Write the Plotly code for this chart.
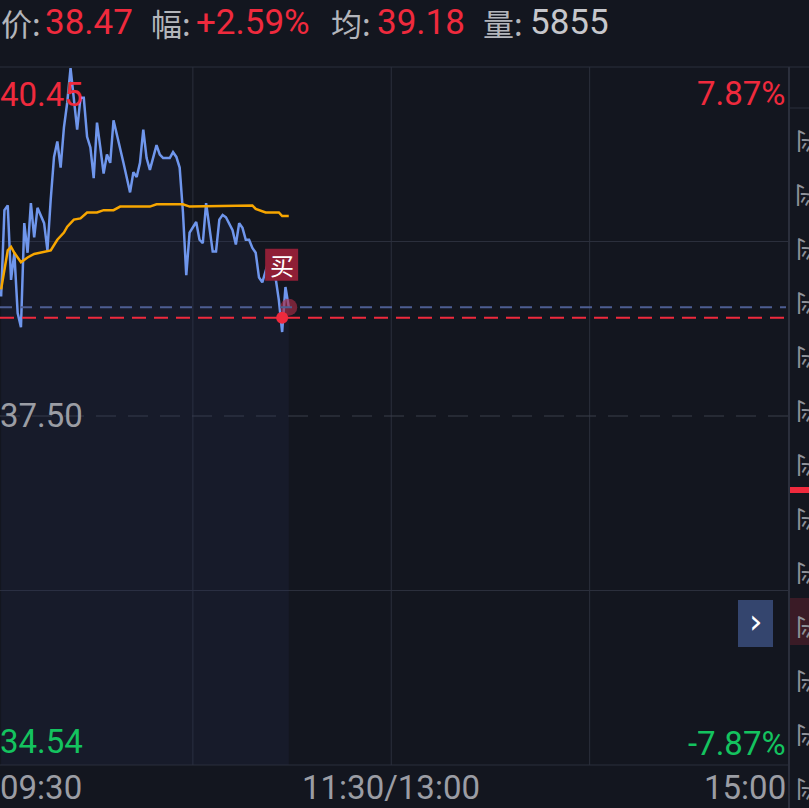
import plotly.graph_objects as go

# ---------------- data ----------------
prev_close = 37.50
price_top = 40.45
price_bottom = 34.55
pct_limit = "7.87%"

minutes = [2, 3, 4, 5, 6, 7, 8, 9, 10, 11, 12, 13, 15, 16, 17, 18, 19, 20, 21, 22,
           23, 24, 25, 26, 27, 28, 29, 30, 31, 32, 33, 34, 35, 36, 38, 39, 41, 42, 43, 44,
           45, 46, 47, 49, 50, 51, 53, 54, 55, 56, 57, 58, 59, 61, 62, 63, 64, 65, 66, 67,
           68, 69, 70, 72, 73, 74, 75, 76, 77, 78, 79, 80, 81, 83, 85, 86, 87, 88, 89]
prices = [38.51, 39.24, 39.28, 38.65, 38.88, 38.37, 38.25, 39.13, 38.88, 39.30,
          39.01, 39.26, 39.13, 38.90, 39.33, 39.69, 39.82, 39.60, 39.94, 40.15,
          40.44, 40.20, 39.92, 40.19, 40.19, 39.86, 39.77, 39.51, 39.98, 39.77,
          39.55, 39.71, 39.64, 40.00, 39.77, 39.64, 39.39, 39.56, 39.52, 39.64,
          39.92, 39.68, 39.58, 39.79, 39.71, 39.68, 39.68, 39.73, 39.69, 39.60,
          39.22, 38.69, 39.05, 39.14, 38.99, 38.96, 39.30, 39.07, 38.89, 38.89,
          39.16, 39.20, 39.18, 39.07, 38.95, 39.13, 39.09, 38.99, 38.99, 38.92,
          38.88, 38.67, 38.63, 38.82, 38.67, 38.48, 38.21, 38.59, 38.42]

avg_minutes = [2, 4, 5, 6, 8, 10, 12, 14, 15, 17, 19, 21, 22, 24, 26, 28, 31, 33, 36, 38,
               47, 49, 57, 59, 78, 79, 82, 86, 87, 89]
avg_values = [38.57, 38.90, 38.93, 38.88, 38.80, 38.84, 38.87, 38.88, 38.89, 38.90,
              38.99, 39.05, 39.10, 39.16, 39.17, 39.22, 39.22, 39.24, 39.24, 39.27,
              39.27, 39.29, 39.29, 39.27, 39.28, 39.25, 39.22, 39.22, 39.19, 39.19]

buy_minute = 87
buy_price = 38.33
last_minute = 89
last_price = 38.42

grid_minutes = [60, 120, 180]
time_ticks = ["09:30", "11:30/13:00", "15:00"]
price_labels = ["40.45", "37.50", "34.54"]
header_labels = ["价:", "幅:", "均:", "量:"]
header_values = ["38.47", "+2.59%", "39.18", "5855"]
strip_char = "买"
buy_char = "买"

# ---------------- style ----------------
BG = "#13161f"
GRID = "#2b2f3c"
RED = "#ef2a3d"
GREEN = "#14c35f"
GREY = "#9b9da4"
LABEL = "#b3b5bb"
NUMF = "Roboto, Noto Sans CJK SC, sans-serif"
CJKF = "Noto Sans CJK SC, sans-serif"

W, H = 809, 808
ML, MR, MT, MB = 0, 21, 67, 43
PW = W - ML - MR
PH = H - MT - MB


def px(x):
    return (x - ML) / PW


def py(y):
    return (H - MB - y) / PH


fig = go.Figure()

fig.add_trace(go.Scatter(
    x=minutes, y=prices, mode="lines",
    line=dict(color="#6f96ec", width=2.5),
    fill="tozeroy", fillcolor="rgba(40,50,92,0.20)",
    hoverinfo="skip", showlegend=False))

fig.add_trace(go.Scatter(
    x=avg_minutes, y=avg_values, mode="lines",
    line=dict(color="#f7a600", width=2.5),
    hoverinfo="skip", showlegend=False))

fig.add_trace(go.Scatter(
    x=[last_minute], y=[last_price], mode="markers",
    marker=dict(size=17, color="rgba(170,45,70,0.65)"),
    hoverinfo="skip", showlegend=False))

fig.add_trace(go.Scatter(
    x=[buy_minute], y=[buy_price], mode="markers",
    marker=dict(size=12, color=RED),
    hoverinfo="skip", showlegend=False))

shapes = []
# vertical grid
for m in grid_minutes:
    shapes.append(dict(type="line", xref="x", yref="paper", x0=m, x1=m, y0=0, y1=1,
                       line=dict(color=GRID, width=1), layer="below"))
# horizontal grid
for f in [0.25, 0.75]:
    shapes.append(dict(type="line", xref="paper", yref="paper", x0=0, x1=1, y0=f, y1=f,
                       line=dict(color=GRID, width=1), layer="below"))
shapes.append(dict(type="line", xref="paper", yref="y", x0=0, x1=1, y0=prev_close, y1=prev_close,
                   line=dict(color="#3a3e4b", width=1, dash="20px,12px"), layer="below"))
# borders
shapes.append(dict(type="line", xref="paper", yref="paper", x0=0, x1=px(W), y0=1, y1=1,
                   line=dict(color=GRID, width=1)))
shapes.append(dict(type="line", xref="paper", yref="paper", x0=0, x1=1, y0=0, y1=0,
                   line=dict(color=GRID, width=1)))
shapes.append(dict(type="line", xref="paper", yref="paper", x0=px(789), x1=px(789), y0=1, y1=py(H),
                   line=dict(color=GRID, width=2)))
shapes.append(dict(type="line", xref="paper", yref="paper", x0=px(789), x1=px(W), y0=py(108), y1=py(108),
                   line=dict(color=GRID, width=1)))
# price reference lines
shapes.append(dict(type="line", xref="paper", yref="y", x0=0, x1=px(786), y0=last_price, y1=last_price,
                   line=dict(color="#4d5e92", width=2, dash="12px,8px")))
shapes.append(dict(type="line", xref="paper", yref="y", x0=0, x1=px(786), y0=buy_price, y1=buy_price,
                   line=dict(color=RED, width=2, dash="14px,8px")))
# buy label box anchored at the buy point
shapes.append(dict(type="rect", xref="x", yref="y", xsizemode="pixel", ysizemode="pixel",
                   xanchor=buy_minute, yanchor=buy_price, x0=-17, x1=16, y0=37, y1=69,
                   fillcolor="#8f1f36", line=dict(width=0)))
# right strip items
shapes.append(dict(type="rect", xref="paper", yref="paper", x0=px(790), x1=px(W), y0=py(645), y1=py(598),
                   fillcolor="#3a1b26", line=dict(width=0)))
shapes.append(dict(type="rect", xref="paper", yref="paper", x0=px(790), x1=px(W), y0=py(493), y1=py(487),
                   fillcolor=RED, line=dict(width=0)))
# chevron button
shapes.append(dict(type="rect", xref="paper", yref="paper", x0=px(738), x1=px(773), y0=py(647), y1=py(600),
                   fillcolor="#34456e", line=dict(width=0)))

ann = []


def text(s, x, y, color, size, xanchor="left", family=NUMF, **kw):
    ann.append(dict(text=s, x=px(x), y=py(y), xref="paper", yref="paper", showarrow=False,
                    xanchor=xanchor, yanchor="middle",
                    font=dict(color=color, size=size, family=family), **kw))


# header
hx_lab = [0, 150, 330, 482]
hx_val = [45, 196, 377, 530]
hcol = [RED, RED, RED, "#c6c7cc"]
for lab, val, xl, xv, c in zip(header_labels, header_values, hx_lab, hx_val, hcol):
    text(lab, xl - 1, 23, LABEL, 31, family=CJKF)
    text(val, xv - 2, 23, c, 35)

# price labels
text(price_labels[0], -2, 94, RED, 33)
text(price_labels[1], -2, 415, GREY, 33)
text(price_labels[2], -2, 741, GREEN, 33)
text(pct_limit, 788, 93, RED, 33, xanchor="right")
text("-" + pct_limit, 788, 743, GREEN, 33, xanchor="right")

# time labels
text(time_ticks[0], -2, 787, GREY, 33)
text(time_ticks[1], 391, 787, GREY, 33, xanchor="center")
text(time_ticks[2], 788, 787, GREY, 33, xanchor="right")

# chevron
text("›", 756, 621, "#ffffff", 34, xanchor="center", family="DejaVu Sans, sans-serif")

# right strip characters (cut by the right edge)
for k in range(13):
    text(strip_char, 808, 142 + 54 * k, "#8d9097", 27, xanchor="center", family=CJKF, textangle=-90)

# buy label text
ann.append(dict(text=buy_char, x=buy_minute, y=buy_price, xref="x", yref="y", showarrow=False,
                xanchor="center", yanchor="middle", xshift=-0.5, yshift=53,
                font=dict(color="#ffffff", size=24, family=CJKF)))

fig.update_layout(
    width=W, height=H,
    margin=dict(l=ML, r=MR, t=MT, b=MB, pad=0),
    paper_bgcolor=BG, plot_bgcolor=BG,
    xaxis=dict(range=[1.66, 240], showgrid=False, zeroline=False, showticklabels=False,
               fixedrange=True, showline=False),
    yaxis=dict(range=[price_bottom, price_top], showgrid=False, zeroline=False,
               showticklabels=False, fixedrange=True, showline=False),
    shapes=shapes, annotations=ann, showlegend=False,
)

fig.write_html("out.html", config={"displayModeBar": False},
               post_script="document.body.style.margin='0';document.body.style.overflow='hidden';"
                           "document.body.style.background='" + BG + "';")
